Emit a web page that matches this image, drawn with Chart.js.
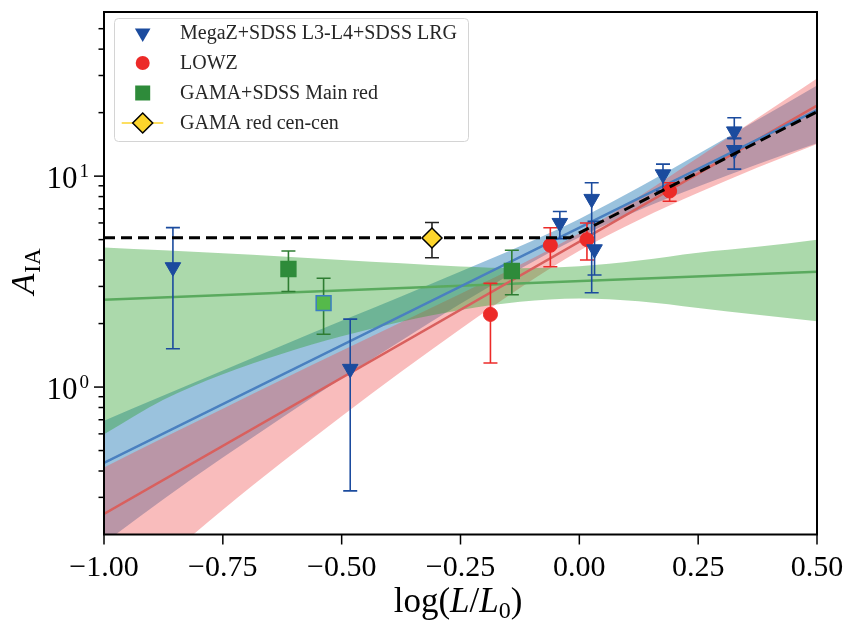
<!DOCTYPE html>
<html>
<head>
<meta charset="utf-8">
<script src="https://cdn.jsdelivr.net/npm/chart.js@4.4.0/dist/chart.umd.min.js"></script>
<style>
  body { margin: 0; background: #fff; }
  #wrap { width: 850px; height: 625px; }
</style>
</head>
<body>
<div id="wrap"><canvas id="c" width="850" height="625"></canvas></div>
<script>
// data: x = log(L/L0), y = A_IA
const megazX  = [-0.855, -0.482, -0.041, 0.026, 0.032, 0.176, 0.326, 0.326];
const megazY  = [3.7, 1.22, 6.0, 7.8, 4.5, 10.2, 16.3, 13.3];
const megazLo = [1.52, 0.322, 5.05, 2.8, 3.4, 8.5, 15.1, 10.8];
const megazHi = [5.7, 2.1, 6.8, 9.3, 6.1, 11.4, 18.9, 15.1];

const lowzX  = [-0.187, -0.061, 0.016, 0.19];
const lowzY  = [2.21, 4.7, 5.0, 8.5];
const lowzLo = [1.30, 3.72, 4.0, 7.6];
const lowzHi = [3.1, 5.69, 6.0, 9.3];

const gamaX  = [-0.612, -0.538, -0.142];
const gamaY  = [3.63, 2.5, 3.55];
const gamaLo = [2.84, 1.78, 2.74];
const gamaHi = [4.42, 3.28, 4.45];

const cenX  = [-0.31];
const cenY  = [5.09];
const cenLo = [4.1];
const cenHi = [6.03];

// fitted power laws (straight on the log axis) and their bands
const fitX = [-1, 0.5];
const blueFit  = [0.4375, 20.58];
const redFit   = [0.2503, 21.63];
const greenFit = [2.594, 3.52];

const bandX    = [-1, -0.875, -0.75, -0.625, -0.5, -0.375, -0.25, -0.125, 0, 0.125, 0.25, 0.375, 0.5];
const blueUp   = [0.693, 0.912, 1.199, 1.573, 2.06, 2.69, 3.53, 4.65, 6.27, 8.83, 12.73, 18.5, 26.9];
const blueLow  = [0.182, 0.294, 0.463, 0.718, 1.10, 1.66, 2.48, 3.63, 5.13, 6.89, 8.93, 11.4, 14.3];
const redUp    = [0.416, 0.575, 0.790, 1.085, 1.486, 2.029, 2.769, 3.80, 5.36, 7.99, 12.24, 18.86, 29.0];
const redLow   = [0.084, 0.151, 0.262, 0.441, 0.728, 1.181, 1.885, 2.95, 4.43, 6.20, 8.33, 10.98, 14.2];
const greenUp  = [4.59, 4.45, 4.31, 4.16, 4.00, 3.86, 3.73, 3.66, 3.74, 3.98, 4.33, 4.62, 5.0];
const greenLow = [0.597, 0.87, 1.15, 1.44, 1.74, 2.04, 2.32, 2.54, 2.63, 2.55, 2.37, 2.2, 2.05];

// broken power law (dashed)
const brokenX = [-1, -0.02, 0.5];
const brokenY = [5.1, 5.1, 20.2];

// axis ticks
const xTicks = [-1, -0.75, -0.5, -0.25, 0, 0.25, 0.5];
const xTickLabels = ['\u22121.00', '\u22120.75', '\u22120.50', '\u22120.25', '0.00', '0.25', '0.50'];
const yMajor = [1, 10];
const yMajorExp = ['0', '1'];
const yMinor = [0.3, 0.4, 0.5, 0.6, 0.7, 0.8, 0.9, 2, 3, 4, 5, 6, 7, 8, 9, 20, 30, 40, 50];

const legendLabels = ['MegaZ+SDSS L3-L4+SDSS LRG', 'LOWZ', 'GAMA+SDSS Main red', 'GAMA red cen-cen'];

const C_BLUE = '#1b4b9e', C_RED = '#ec2a28', C_GREEN = '#2e8b3a', C_YELLOW = '#fdd52c';
const SERIF = '"Liberation Serif", "DejaVu Serif", serif';

const pts = (xs, ys) => xs.map((x, i) => ({ x: x, y: ys[i] }));
function errData(xs, lo, hi) {
	const d = [];
	xs.forEach((x, i) => { d.push({ x: x, y: lo[i] }, { x: x, y: hi[i] }, { x: x, y: null }); });
	return d;
}
function band(up, low, color, order) {
	return [
		{ data: pts(bandX, up), fill: '+1', backgroundColor: color, borderColor: 'rgba(0,0,0,0)',
		  pointRadius: 0, cubicInterpolationMode: 'monotone', order: order },
		{ data: pts(bandX, low), fill: false, borderColor: 'rgba(0,0,0,0)',
		  pointRadius: 0, cubicInterpolationMode: 'monotone', order: order }
	];
}
function fitLine(ys, color, order) {
	return { data: pts(fitX, ys), borderColor: color, borderWidth: 2.5, pointRadius: 0, fill: false, order: order };
}
function errBars(xs, lo, hi, color, order) {
	return { data: errData(xs, lo, hi), borderColor: color, borderWidth: 1.6, spanGaps: false,
			 pointStyle: 'line', pointRadius: 7, pointBorderColor: color, pointBorderWidth: 1.6, order: order };
}

// axes, ticks, labels and legend drawn on top
const decorPlugin = {
	id: 'decor',
	afterDraw(chart) {
		const ctx = chart.ctx, a = chart.chartArea, xs = chart.scales.x, ys = chart.scales.y;
		ctx.save();
		ctx.fillStyle = '#000';
		ctx.strokeStyle = '#000';

		// x ticks
		ctx.lineWidth = 1.5;
		ctx.font = '30px ' + SERIF;
		ctx.textAlign = 'center';
		ctx.textBaseline = 'alphabetic';
		xTicks.forEach((v, i) => {
			const px = xs.getPixelForValue(v);
			ctx.beginPath(); ctx.moveTo(px, a.bottom); ctx.lineTo(px, a.bottom + 10); ctx.stroke();
			ctx.fillText(xTickLabels[i], px, 576);
		});

		// y ticks
		yMinor.forEach(v => {
			const py = ys.getPixelForValue(v);
			ctx.beginPath(); ctx.moveTo(a.left, py); ctx.lineTo(a.left - 5.5, py); ctx.stroke();
		});
		ctx.textAlign = 'right';
		yMajor.forEach((v, i) => {
			const py = ys.getPixelForValue(v);
			ctx.beginPath(); ctx.moveTo(a.left, py); ctx.lineTo(a.left - 10, py); ctx.stroke();
			ctx.font = '19px ' + SERIF;
			ctx.fillText(yMajorExp[i], 89, py + 1);
			const w = ctx.measureText(yMajorExp[i]).width;
			ctx.font = '31px ' + SERIF;
			ctx.fillText('10', 89 - w - 2, py + 12);
		});

		// frame
		ctx.lineWidth = 2;
		ctx.strokeRect(a.left, a.top, a.right - a.left, a.bottom - a.top);

		// x title: log(L/L0)
		const parts = [
			['log(', '35px ' + SERIF, 0],
			['L', 'italic 35px ' + SERIF, 0],
			['/', '35px ' + SERIF, 0],
			['L', 'italic 35px ' + SERIF, 0],
			['0', '24px ' + SERIF, 6],
			[')', '35px ' + SERIF, 0]
		];
		ctx.textAlign = 'left';
		let tot = 0;
		parts.forEach(p => { ctx.font = p[1]; tot += ctx.measureText(p[0]).width; });
		let cx = 458 - tot / 2;
		parts.forEach(p => { ctx.font = p[1]; ctx.fillText(p[0], cx, 612 + p[2]); cx += ctx.measureText(p[0]).width; });

		// y title: A_IA
		ctx.save();
		ctx.translate(34, 272);
		ctx.rotate(-Math.PI / 2);
		ctx.font = 'italic 34px ' + SERIF;
		const wA = ctx.measureText('A').width;
		ctx.font = '23px ' + SERIF;
		const wS = ctx.measureText('IA').width;
		ctx.font = 'italic 34px ' + SERIF;
		ctx.fillText('A', -(wA + wS) / 2, 0);
		ctx.font = '23px ' + SERIF;
		ctx.fillText('IA', -(wA + wS) / 2 + wA + 1, 6);
		ctx.restore();

		// legend
		ctx.beginPath();
		ctx.roundRect(114.5, 18.5, 354, 123, 4);
		ctx.fillStyle = 'rgba(255,255,255,0.8)';
		ctx.fill();
		ctx.strokeStyle = '#d4d4d4';
		ctx.lineWidth = 1;
		ctx.stroke();
		const mx = 142.7, rows = [33, 63, 93, 123];
		// down triangle
		ctx.fillStyle = C_BLUE;
		ctx.beginPath();
		ctx.moveTo(mx - 7.8, rows[0] - 4.5); ctx.lineTo(mx + 7.8, rows[0] - 4.5); ctx.lineTo(mx, rows[0] + 9);
		ctx.closePath(); ctx.fill();
		// circle
		ctx.fillStyle = C_RED;
		ctx.beginPath(); ctx.arc(mx, rows[1], 7, 0, Math.PI * 2); ctx.fill();
		// square
		ctx.fillStyle = C_GREEN;
		ctx.fillRect(mx - 7.5, rows[2] - 7.5, 15, 15);
		// line + diamond
		ctx.strokeStyle = C_YELLOW; ctx.lineWidth = 1.5;
		ctx.beginPath(); ctx.moveTo(121.7, rows[3]); ctx.lineTo(163.3, rows[3]); ctx.stroke();
		ctx.fillStyle = C_YELLOW; ctx.strokeStyle = '#000';
		ctx.beginPath();
		ctx.moveTo(mx, rows[3] - 10); ctx.lineTo(mx + 10, rows[3]); ctx.lineTo(mx, rows[3] + 10); ctx.lineTo(mx - 10, rows[3]);
		ctx.closePath(); ctx.fill(); ctx.stroke();

		ctx.fillStyle = '#262626';
		ctx.font = '20px ' + SERIF;
		ctx.textAlign = 'left';
		ctx.textBaseline = 'middle';
		legendLabels.forEach((t, i) => ctx.fillText(t, 180, rows[i] + 1));
		ctx.restore();
	}
};

const datasets = [].concat(
	[{ data: pts(brokenX, brokenY), borderColor: '#000', borderWidth: 3, borderDash: [11, 6],
	   pointRadius: 0, fill: false, order: 0 }],
	[{ data: pts(megazX, megazY), showLine: false, pointStyle: 'triangle', pointRotation: 180,
	   pointRadius: 9, pointBackgroundColor: C_BLUE, pointBorderColor: C_BLUE, pointBorderWidth: 1, order: 1 },
	 { data: pts(lowzX, lowzY), showLine: false, pointStyle: 'circle',
	   pointRadius: 7, pointBackgroundColor: C_RED, pointBorderColor: C_RED, pointBorderWidth: 1, order: 2 },
	 { data: pts(gamaX, gamaY), showLine: false, pointStyle: 'rect', pointRadius: 10.5,
	   pointBackgroundColor: [C_GREEN, '#55b94a', C_GREEN], pointBorderColor: [C_GREEN, '#3b7dc4', C_GREEN],
	   pointBorderWidth: 1.5, order: 3 },
	 { data: pts(cenX, cenY), showLine: false, pointStyle: 'rectRot', pointRadius: 10,
	   pointBackgroundColor: C_YELLOW, pointBorderColor: '#000', pointBorderWidth: 1.5, order: -1 }],
	[errBars(megazX, megazLo, megazHi, C_BLUE, 5),
	 errBars(lowzX, lowzLo, lowzHi, C_RED, 6),
	 errBars(gamaX, gamaLo, gamaHi, '#2e7d32', 7),
	 errBars(cenX, cenLo, cenHi, '#222', 8)],
	[fitLine(blueFit, '#4a80c0', 9), fitLine(redFit, '#d9605e', 10), fitLine(greenFit, '#5aaa5e', 11)],
	band(greenUp, greenLow, 'rgba(44,160,44,0.4)', 12),
	band(redUp, redLow, 'rgba(240,80,80,0.38)', 13),
	band(blueUp, blueLow, 'rgba(31,119,180,0.45)', 14)
);

new Chart(document.getElementById('c'), {
	type: 'line',
	data: { datasets: datasets },
	options: {
		responsive: false,
		animation: false,
		devicePixelRatio: 1,
		layout: { padding: { left: 104, right: 33, top: 7, bottom: 90.5 } },
		plugins: { legend: { display: false }, tooltip: { enabled: false } },
		scales: {
			x: { type: 'linear', min: -1, max: 0.5, display: false },
			y: { type: 'logarithmic', min: 0.2, max: 60, display: false }
		}
	},
	plugins: [decorPlugin]
});
</script>
</body>
</html>
